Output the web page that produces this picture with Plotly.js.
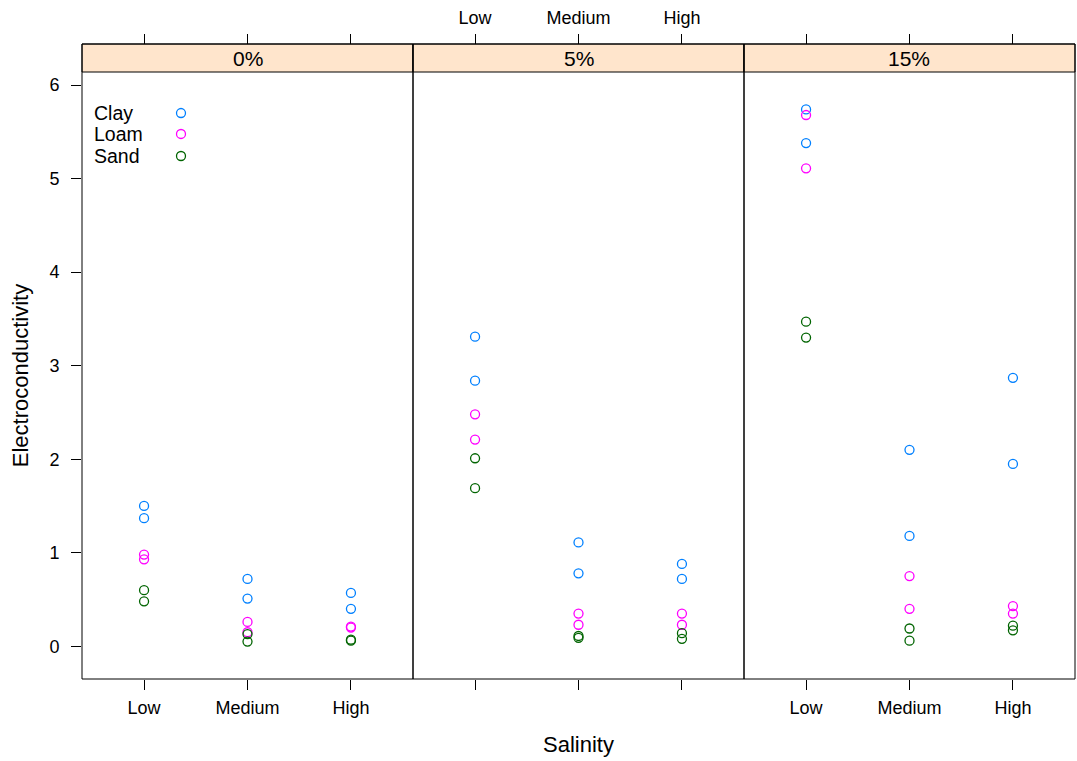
<!DOCTYPE html>
<html>
<head>
<meta charset="utf-8">
<script src="https://cdn.plot.ly/plotly-3.0.1.min.js"></script>
<style>html,body{margin:0;padding:0;background:#fff;}</style>
</head>
<body>
<div id="chart" style="width:1077px;height:761px;"></div>
<script>
// ---- Data ----
const salinityLevels = ['Low', 'Medium', 'High'];
const panels = ['0%', '5%', '15%'];
const soils = ['Clay', 'Loam', 'Sand'];
const soilColors = ['#0080ff', '#ff00ff', '#006400'];
const yTicks = [0, 1, 2, 3, 4, 5, 6];

// x category for each observation (two replicates per salinity level)
const obsSalinity = ['Low', 'Low', 'Medium', 'Medium', 'High', 'High'];

// Panel 0%
const clay0 = [1.50, 1.37, 0.72, 0.51, 0.57, 0.40];
const loam0 = [0.98, 0.93, 0.26, 0.15, 0.21, 0.20];
const sand0 = [0.60, 0.48, 0.13, 0.05, 0.07, 0.06];
// Panel 5%
const clay5 = [3.31, 2.84, 1.11, 0.78, 0.88, 0.72];
const loam5 = [2.48, 2.21, 0.35, 0.23, 0.35, 0.23];
const sand5 = [2.01, 1.69, 0.11, 0.09, 0.14, 0.08];
// Panel 15%
const clay15 = [5.74, 5.38, 2.10, 1.18, 2.87, 1.95];
const loam15 = [5.68, 5.11, 0.75, 0.40, 0.43, 0.35];
const sand15 = [3.47, 3.30, 0.19, 0.06, 0.22, 0.17];

const panelData = [
  [clay0, loam0, sand0],
  [clay5, loam5, sand5],
  [clay15, loam15, sand15]
];

// ---- Layout geometry ----
const W = 1077, H = 761;
const mL = 82, mR = 2, mT = 44, mB = 82;
const plotH = H - mT - mB;
const stripBottom = (H - mB - 72) / plotH; // paper fraction of strip bottom
const font = 'Liberation Sans, Arial, Helvetica, sans-serif';

const traces = [];
const axisIds = ['', '2', '3'];
panels.forEach((p, pi) => {
  soils.forEach((s, si) => {
    traces.push({
      type: 'scatter', mode: 'markers',
      x: obsSalinity, y: panelData[pi][si],
      xaxis: 'x' + axisIds[pi], yaxis: 'y',
      name: s, showlegend: false,
      marker: {symbol: 'circle-open', size: 9, color: soilColors[si], line: {width: 1.3, color: soilColors[si]}},
      hoverinfo: 'x+y+name'
    });
  });
});
// placeholder traces for top tick axes
['4', '5', '6'].forEach(id => {
  traces.push({type: 'scatter', mode: 'markers', x: salinityLevels, y: [null, null, null],
    xaxis: 'x' + id, yaxis: 'y', showlegend: false, hoverinfo: 'skip'});
});
// legend key markers (drawn on an invisible paper-like axis pair)
const legendMarkerX = 0.0997;
const legendMarkerY = [0.8913, 0.8583, 0.8236];
soils.forEach((s, si) => {
  traces.push({type: 'scatter', mode: 'markers', x: [legendMarkerX], y: [legendMarkerY[si]],
    xaxis: 'x7', yaxis: 'y7', showlegend: false, hoverinfo: 'skip',
    marker: {symbol: 'circle-open', size: 9, color: soilColors[si], line: {width: 1.3, color: soilColors[si]}}});
});

const catRange = [-0.6, 2.6];
function bottomAxis(domain, showLabels) {
  return {
    domain: domain, anchor: 'y', type: 'category',
    categoryorder: 'array', categoryarray: salinityLevels,
    range: catRange, showgrid: false, zeroline: false, showline: false,
    ticks: 'outside', ticklen: 10, tickwidth: 1, tickcolor: '#000',
    showticklabels: showLabels, ticklabelstandoff: 2,
    tickfont: {family: font, size: 18, color: '#000'},
    fixedrange: true
  };
}
function topAxis(over, showLabels) {
  return {
    overlaying: over, anchor: 'free', position: 1, side: 'top', type: 'category',
    categoryorder: 'array', categoryarray: salinityLevels,
    range: catRange, showgrid: false, zeroline: false, showline: false,
    ticks: 'outside', ticklen: 10, tickwidth: 1, tickcolor: '#000',
    showticklabels: showLabels, ticklabelstandoff: 3,
    tickfont: {family: font, size: 18, color: '#000'},
    fixedrange: true
  };
}

const d = [[0, 1/3], [1/3, 2/3], [2/3, 1]];
const shapes = [];
const annotations = [];
panels.forEach((p, pi) => {
  // panel border
  shapes.push({type: 'rect', xref: 'paper', yref: 'paper', x0: d[pi][0], x1: d[pi][1], y0: 0, y1: 1,
    line: {color: '#000', width: 1}, fillcolor: 'rgba(0,0,0,0)', layer: 'above'});
  // strip
  shapes.push({type: 'rect', xref: 'paper', yref: 'paper', x0: d[pi][0], x1: d[pi][1], y0: stripBottom, y1: 1,
    line: {color: '#000', width: 1}, fillcolor: '#ffe5cc', layer: 'below'});
  annotations.push({xref: 'paper', yref: 'paper', x: (d[pi][0] + d[pi][1]) / 2, y: (stripBottom + 1) / 2,
    text: p, showarrow: false, xanchor: 'center', yanchor: 'middle',
    font: {family: font, size: 21, color: '#000'}});
});
// legend labels
const legendTextX = (93 - mL) / (W - mL - mR);
soils.forEach((s, si) => {
  annotations.push({xref: 'paper', yref: 'paper', x: legendTextX, y: legendMarkerY[si],
    text: s, showarrow: false, xanchor: 'left', yanchor: 'middle', borderpad: 0,
    font: {family: font, size: 19.5, color: '#000'}});
});

const layout = {
  width: W, height: H,
  margin: {l: mL, r: mR, t: mT, b: mB, pad: 0},
  paper_bgcolor: '#fff', plot_bgcolor: 'rgba(0,0,0,0)',
  showlegend: false,
  font: {family: font, color: '#000'},
  xaxis: bottomAxis(d[0], true),
  xaxis2: Object.assign(bottomAxis(d[1], false), {title: {text: 'Salinity', font: {family: font, size: 22, color: '#000'}, standoff: 47}}),
  xaxis3: bottomAxis(d[2], true),
  xaxis4: topAxis('x', false),
  xaxis5: topAxis('x2', true),
  xaxis6: topAxis('x3', false),
  xaxis7: {domain: [0, 1], range: [0, 1], anchor: 'y7', visible: false, fixedrange: true},
  yaxis7: {domain: [0, 1], range: [0, 1], anchor: 'x7', visible: false, fixedrange: true},
  yaxis: {
    domain: [0, stripBottom], anchor: 'x', range: [-0.35, 6.14],
    tickvals: yTicks, ticktext: yTicks.map(String),
    showgrid: false, zeroline: false, showline: false,
    ticks: 'outside', ticklen: 10, tickwidth: 1, tickcolor: '#000',
    ticklabelstandoff: 8,
    tickfont: {family: font, size: 18, color: '#000'},
    title: {text: 'Electroconductivity', font: {family: font, size: 22, color: '#000'}, standoff: 14},
    fixedrange: true
  },
  shapes: shapes,
  annotations: annotations
};

Plotly.newPlot('chart', traces, layout, {displayModeBar: false, staticPlot: true});
</script>
</body>
</html>
